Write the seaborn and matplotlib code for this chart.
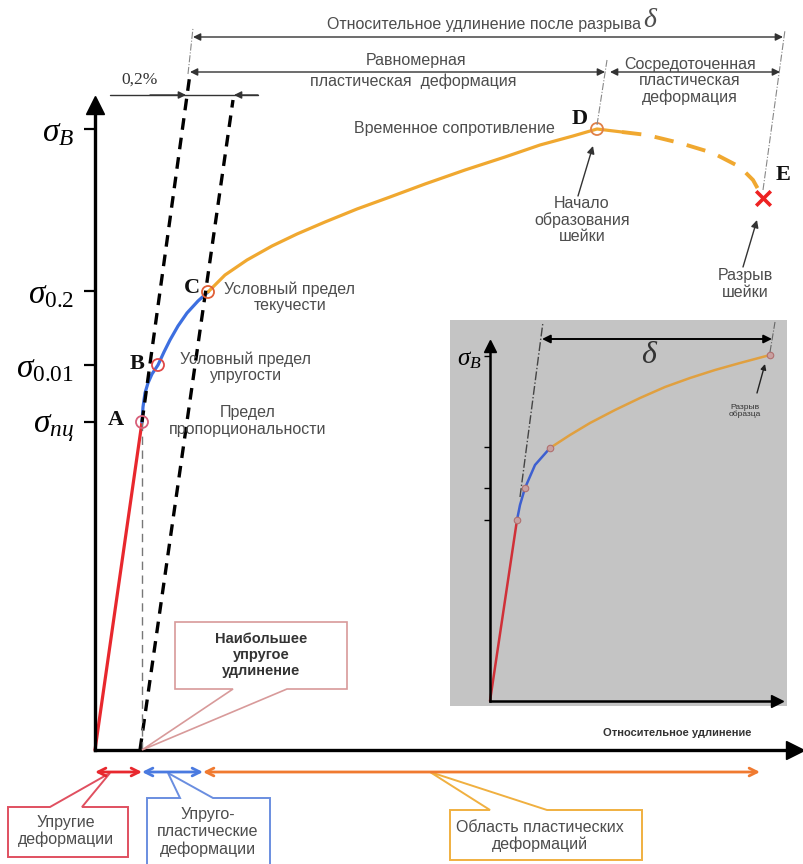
import matplotlib.pyplot as plt
import seaborn as sns
from matplotlib.patches import Polygon

sns.set_theme(style="white")
plt.rcParams['font.family'] = ['Liberation Sans', 'DejaVu Sans']
plt.rcParams['mathtext.fontset'] = 'custom'
plt.rcParams['mathtext.rm'] = 'Liberation Serif'
plt.rcParams['mathtext.it'] = 'Liberation Serif:italic'
plt.rcParams['mathtext.bf'] = 'Liberation Serif:bold'

# --- диаграмма растяжения (условные единицы) ---
elastic_strain = [0, 47]
elastic_stress = [0, 328]
transit_strain = [47, 48, 50, 53, 57, 63, 69, 75, 83, 92, 103, 113]
transit_stress = [328, 343, 357, 367, 376, 385, 398, 410, 424, 437, 449, 458]
plastic_strain = [113, 130, 152, 177, 202, 230, 262, 295, 330, 370, 410, 445, 478, 502, 527]
plastic_stress = [458, 475, 490, 504, 516, 528, 541, 553, 566, 580, 593, 605, 614, 621, 618]
neck_strain = [527, 552, 585, 618, 645, 658, 668]
neck_stress = [618, 615, 607, 597, 583, 570, 552]

point_names = ['A', 'B', 'C', 'D']
point_strain = [47, 63, 113, 502]
point_stress = [328, 385, 458, 621]
point_colors = ['#d8607a', '#e04848', '#e06038', '#e08048']
break_strain = [668]
break_stress = [552]

stress_levels = [328, 385, 459, 621]
stress_labels = [r'$\sigma_{пц}$', r'$\sigma_{0.01}$', r'$\sigma_{0.2}$', r'$\sigma_{B}$']

offset_strain = [45, 138]      # линия допуска 0,2%
offset_stress = [0, 650]
hooke_strain = [47, 95]        # продолжение упругого участка
hooke_stress = [328, 676]

# --- вставка: материал без шейки ---
in_el_strain = [0, 27]
in_el_stress = [0, 181]
in_tr_strain = [27, 30, 35, 45, 60]
in_tr_stress = [181, 196, 213, 236, 253]
in_pl_strain = [60, 80, 100, 125, 150, 175, 200, 225, 250, 280]
in_pl_stress = [253, 266, 278, 291, 303, 314, 323, 331, 338, 346]
in_pts_strain = [27, 35, 60, 280]
in_pts_stress = [181, 213, 253, 346]
in_levels = [181, 213, 254, 345]

RED, BLUE, ORANGE = '#e8282e', '#3d6fe0', '#f0a830'
TXT = '#4d4d4d'
FS = 11.5

fig = plt.figure(figsize=(8.04, 8.64), dpi=100)

# ======== основная диаграмма ========
ax = fig.add_axes([0, 0, 1, 1], zorder=1)
ax.set_xlim(-95, 709)
ax.set_ylim(-114, 750)
ax.patch.set_alpha(0)
for s in ['top', 'right']:
    ax.spines[s].set_visible(False)
ax.spines['left'].set_position(('data', 0))
ax.spines['bottom'].set_position(('data', 0))
ax.spines['left'].set_bounds(0, 648)
ax.spines['bottom'].set_bounds(0, 700)
for s in ['left', 'bottom']:
    ax.spines[s].set_linewidth(2.4)
    ax.spines[s].set_color('black')
ax.set_xticks([])
ax.set_yticks(stress_levels, stress_labels)
ax.tick_params(axis='y', direction='out', length=8, width=1.6, pad=7,
               labelsize=24, colors='black', left=True)
ax.plot(700, 0, '>', ms=13, color='black', clip_on=False)
ax.plot(0, 645, '^', ms=13, color='black', clip_on=False)

sns.lineplot(x=elastic_strain, y=elastic_stress, ax=ax, color=RED, lw=2.3, sort=False)
sns.lineplot(x=transit_strain, y=transit_stress, ax=ax, color=BLUE, lw=2.3, sort=False)
sns.lineplot(x=plastic_strain, y=plastic_stress, ax=ax, color=ORANGE, lw=2.3, sort=False)
sns.lineplot(x=neck_strain, y=neck_stress, ax=ax, color=ORANGE, lw=2.8,
             linestyle=(0, (5, 3.5)), sort=False)

ax.plot(offset_strain, offset_stress, color='black', lw=2.4, linestyle=(0, (3.5, 2.4)))
ax.plot(hooke_strain, hooke_stress, color='black', lw=2.4, linestyle=(0, (3.5, 2.4)))
ax.plot([point_strain[0], point_strain[0]], [0, point_stress[0]], color='#777777',
        lw=1, linestyle=(0, (6, 4)))

ax.scatter(point_strain, point_stress, s=75, facecolors='none', edgecolors=point_colors,
           linewidths=1.3, zorder=5)
ax.scatter(break_strain, break_stress, s=110, marker='x', color='#ee2222', linewidths=2.6,
           zorder=5)

# ======== вставка ========
ins = fig.add_axes([450 / 804, (864 - 706) / 864, 337 / 804, 386 / 864], zorder=3)
ins.set_facecolor('#c4c4c4')
ins.set_xlim(-40, 297)
ins.set_ylim(-5, 381)
for s in ['top', 'right']:
    ins.spines[s].set_visible(False)
ins.spines['left'].set_position(('data', 0))
ins.spines['bottom'].set_position(('data', 0))
ins.spines['left'].set_bounds(0, 355)
ins.spines['bottom'].set_bounds(0, 287)
for s in ['left', 'bottom']:
    ins.spines[s].set_linewidth(1.8)
    ins.spines[s].set_color('black')
ins.set_xticks([])
ins.set_yticks(in_levels, ['', '', '', r'$\sigma_{B}$'])
ins.tick_params(axis='y', direction='out', length=4, width=1, pad=2, labelsize=18,
                colors='black', left=True)
ins.plot(287, 0, '>', ms=8, color='black', clip_on=False)
ins.plot(0, 355, '^', ms=8, color='black', clip_on=False)
sns.lineplot(x=in_el_strain, y=in_el_stress, ax=ins, color='#d03038', lw=1.8, sort=False)
sns.lineplot(x=in_tr_strain, y=in_tr_stress, ax=ins, color='#3d5fd0', lw=1.8, sort=False)
sns.lineplot(x=in_pl_strain, y=in_pl_stress, ax=ins, color='#e0a040', lw=1.8, sort=False)
ins.scatter(in_pts_strain, in_pts_stress, s=22, facecolors='#c8a0a0', edgecolors='#b07070',
            linewidths=0.8, zorder=5)

# ======== подписи и стрелки (в пикселях рисунка) ========
ov = fig.add_axes([0, 0, 1, 1], zorder=5)
ov.set_xlim(0, 804)
ov.set_ylim(864, 0)
ov.axis('off')
ov.patch.set_alpha(0)


def arrow(x0, y0, x1, y1, style='-|>', color='#333333', lw=1.0, ms=12):
    ov.annotate('', xy=(x1, y1), xytext=(x0, y0),
                arrowprops=dict(arrowstyle=style, color=color, lw=lw, mutation_scale=ms,
                                shrinkA=0, shrinkB=0))


def callout(pts, color, lw=1.4):
    ov.add_patch(Polygon(pts, closed=True, fc='white', ec=color, lw=lw, joinstyle='miter',
                         clip_on=False))


dd = dict(color='#888888', lw=0.8, linestyle='-.')
ov.plot([188, 193], [74, 28], **dd)
ov.plot([597, 607], [125, 60], **dd)
ov.plot([763, 785], [190, 30], **dd)

arrow(193, 37, 783, 37, '<|-|>', ms=11)
arrow(190, 72, 605, 72, '<|-|>', ms=11)
arrow(610, 72, 780, 72, '<|-|>', ms=11)
ov.plot([110, 258], [95, 95], color='#333333', lw=1)
arrow(150, 95, 186, 95, ms=11)
arrow(258, 95, 234, 95, ms=11)

ov.text(641, 24, 'Относительное удлинение после разрыва', ha='right', va='center',
        fontsize=FS, color=TXT)
ov.text(643, 20, r'$\delta$', ha='left', va='center', fontsize=20, color=TXT)
ov.text(416, 60, 'Равномерная', ha='center', va='center', fontsize=FS, color=TXT)
ov.text(413, 81, 'пластическая  деформация', ha='center', va='center', fontsize=FS,
        color=TXT)
ov.text(690, 81, 'Сосредоточенная\nпластическая\nдеформация', ha='center', va='center',
        fontsize=FS, color=TXT, linespacing=1.1)
ov.text(140, 80, '0,2%', ha='center', va='center', fontsize=12.5,
        family='Liberation Serif', color='#333333')

ov.text(555, 129, 'Временное сопротивление', ha='right', va='center', fontsize=FS,
        color=TXT)
serif = dict(family='Liberation Serif', fontweight='bold', fontsize=16, color='#111111',
             ha='center', va='center')
for name, (lx, ly) in zip(point_names, [(116, 420), (137, 364), (192, 288), (580, 119)]):
    ov.text(lx, ly, name, **serif)
ov.text(783, 175, 'E', **serif)

ov.text(582, 220, 'Начало\nобразования\nшейки', ha='center', va='center', fontsize=FS,
        color=TXT, linespacing=1.1)
arrow(578, 196, 593, 146, ms=11)
ov.text(745, 284, 'Разрыв\nшейки', ha='center', va='center', fontsize=FS, color=TXT,
        linespacing=1.1)
arrow(743, 267, 757, 220, ms=11)

ov.text(290, 297, 'Условный предел\nтекучести', ha='center', va='center', fontsize=FS,
        color=TXT, linespacing=1.1)
ov.text(246, 367, 'Условный предел\nупругости', ha='center', va='center', fontsize=FS,
        color=TXT, linespacing=1.1)
ov.text(248, 421, 'Предел\nпропорциональности', ha='center', va='center', fontsize=FS,
        color=TXT, linespacing=1.1)

# вставка: допуск и удлинение
ov.plot([520, 543], [497, 322], color='#444444', lw=1, linestyle='-.')
ov.plot([770, 775], [352, 322], color='#666666', lw=0.8, linestyle='-.')
arrow(542, 339, 772, 339, '<|-|>', color='black', lw=1.4, ms=12)
ov.text(650, 355, r'$\delta$', ha='center', va='center', fontsize=23, color='#333333')
ov.text(745, 411, 'Разрыв\nобразца', ha='center', va='center', fontsize=6, color='#333333',
        linespacing=1.1)
arrow(757, 393, 765, 364, color='#222222', ms=8)

ov.text(677, 733, 'Относительное удлинение', ha='center', va='center', fontsize=8,
        fontweight='bold', color='#333333')

# зоны деформации
arrow(95, 772, 142, 772, '<->', color=RED, lw=2, ms=14)
arrow(142, 772, 203, 772, '<->', color='#4a7ae0', lw=2, ms=14)
arrow(203, 772, 760, 772, '<->', color='#f07a30', lw=2, ms=14)

callout([(175, 622), (347, 622), (347, 689), (287, 689), (142, 750), (233, 689), (175, 689)],
        '#d89a9a', lw=1.2)
ov.text(261, 655, 'Наибольшее\nупругое\nудлинение', ha='center', va='center', fontsize=10.5,
        fontweight='bold', color='#333333', linespacing=1.2)

callout([(8, 807), (50, 807), (110, 773), (82, 807), (128, 807), (128, 857), (8, 857)],
        '#e05060')
ov.text(66, 831, 'Упругие\nдеформации', ha='center', va='center', fontsize=FS,
        color=TXT, linespacing=1.15)

callout([(147, 798), (180, 798), (168, 773), (213, 798), (270, 798), (270, 880), (147, 880)],
        '#6a8ee0')
ov.text(208, 832, 'Упруго-\nпластические\nдеформации', ha='center', va='center',
        fontsize=FS, color=TXT, linespacing=1.15)

callout([(450, 810), (490, 810), (430, 772), (547, 810), (642, 810), (642, 860), (450, 860)],
        '#f0b040')
ov.text(540, 836, 'Область пластических\nдеформаций', ha='center', va='center',
        fontsize=FS, color=TXT, linespacing=1.15)

fig.savefig('out.png', dpi=100)
